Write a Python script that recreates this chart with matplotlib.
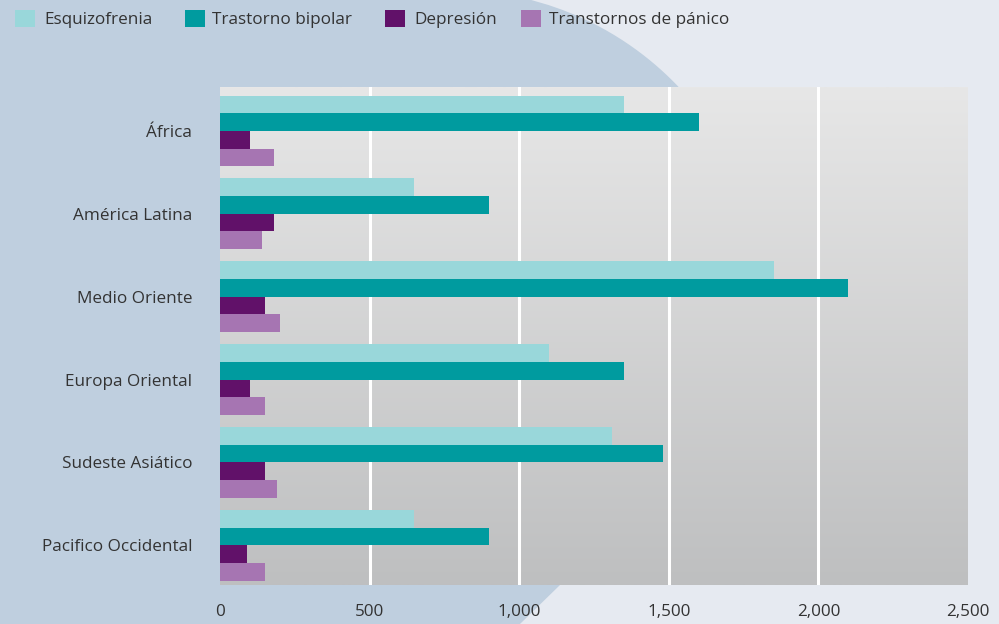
import numpy as np
import matplotlib
matplotlib.use("Agg")
import matplotlib.pyplot as plt
from matplotlib.patches import Polygon, Rectangle
from matplotlib.ticker import FuncFormatter
from matplotlib.colors import LinearSegmentedColormap

regions = ["África", "América Latina", "Medio Oriente", "Europa Oriental",
           "Sudeste Asiático", "Pacifico Occidental"]
series_names = ["Esquizofrenia", "Trastorno bipolar", "Depresión", "Transtornos de pánico"]
esquizofrenia = [1350, 650, 1850, 1100, 1310, 650]
bipolar = [1600, 900, 2100, 1350, 1480, 900]
depresion = [100, 180, 150, 100, 150, 90]
panico = [180, 140, 200, 150, 190, 150]
xticks = [0, 500, 1000, 1500, 2000, 2500]

colors = ["#99D7DA", "#009B9F", "#611169", "#A675B2"]
text_color = "#333333"

plt.rcParams['font.family'] = ['Open Sans', 'DejaVu Sans']

W, H = 999, 624
fig = plt.figure(figsize=(W / 100, H / 100), dpi=100)
fig.patch.set_facecolor("#E6EAF1")

# decorative background shape (figure pixel coords, y from top)
cx, cy, r = 453, 301, 311
top_arc = [(cx + np.sqrt(r**2 - (cy - yy)**2), yy) for yy in np.linspace(0, 120, 25)]
pts = [(0, 0)] + top_arc + [(740, 300), (640, 520), (560, 585), (520, 624), (0, 624)]
poly = Polygon([(x / W, 1 - y / H) for x, y in pts], closed=True,
               transform=fig.transFigure, facecolor="#BFCFDF", edgecolor="none", zorder=0)
fig.patches.append(poly)

ax = fig.add_axes([220 / W, 1 - 585 / H, (968 - 220) / W, (585 - 87) / H])
ax.set_zorder(1)

# gradient plot area
grad = np.linspace(0, 1, 256).reshape(-1, 1)
cmap = LinearSegmentedColormap.from_list("g", ["#E7E7E7", "#BEBFC0"])
ax.imshow(grad, aspect="auto", cmap=cmap, extent=[0, 2500, 5.48, -0.53], zorder=0)

n = len(regions)
y = np.arange(n)
h = 0.213
all_series = [esquizofrenia, bipolar, depresion, panico]
for i, (vals, c, name) in enumerate(zip(all_series, colors, series_names)):
    off = (i - 1.5) * h
    ax.barh(y + off, vals, height=h, color=c, label=name, zorder=3)

ax.set_xlim(0, 2500)
ax.set_ylim(5.48, -0.53)
ax.set_xticks(xticks)
ax.xaxis.set_major_formatter(FuncFormatter(lambda v, p: f"{int(v):,}"))
ax.set_yticks(y)
ax.set_yticklabels(regions)
for v in xticks[1:-1]:
    ax.axvline(v, color="white", lw=2.2, zorder=2)
for s in ax.spines.values():
    s.set_visible(False)
ax.tick_params(axis="both", length=0, labelsize=12.3, colors=text_color)
ax.tick_params(axis="x", pad=14)
ax.tick_params(axis="y", pad=20)

# legend, placed manually
sq_x = [15, 185, 385, 521]
txt_x = [44, 212, 414, 549]
for sx, tx, c, name in zip(sq_x, txt_x, colors, series_names):
    fig.patches.append(Rectangle((sx / W, 1 - 27 / H), 20 / W, 17 / H,
                                 transform=fig.transFigure, facecolor=c,
                                 edgecolor="none", zorder=2))
    fig.text(tx / W, 1 - 20 / H, name, fontsize=12.3, color=text_color,
             ha="left", va="center")

fig.savefig("out.png", dpi=100)
